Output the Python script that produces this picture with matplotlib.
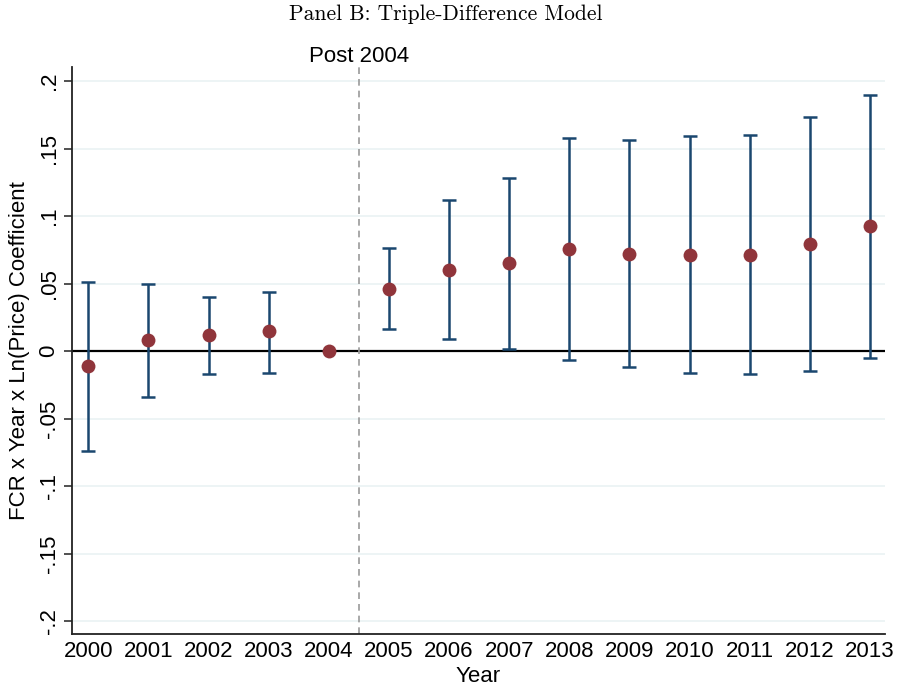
import matplotlib
matplotlib.use("Agg")
import matplotlib.pyplot as plt
import numpy as np

years = [2000, 2001, 2002, 2003, 2004, 2005, 2006, 2007, 2008, 2009, 2010, 2011, 2012, 2013]
coef = [-0.011, 0.008, 0.012, 0.015, 0.0, 0.046, 0.060, 0.065, 0.0755, 0.072, 0.071, 0.071, 0.079, 0.0925]
ci_hi = [0.051, 0.050, 0.040, 0.044, 0.0, 0.076, 0.112, 0.128, 0.158, 0.156, 0.159, 0.160, 0.173, 0.190]
ci_lo = [-0.074, -0.034, -0.017, -0.016, 0.0, 0.016, 0.009, 0.0015, -0.007, -0.012, -0.016, -0.017, -0.015, -0.005]
yticks = [-0.2, -0.15, -0.1, -0.05, 0, 0.05, 0.1, 0.15, 0.2]
ytick_labels = ["-.2", "-.15", "-.1", "-.05", "0", ".05", ".1", ".15", ".2"]

plt.rcParams['font.family'] = ['Liberation Sans', 'DejaVu Sans']

fig = plt.figure(figsize=(8.97, 6.87), dpi=100)
ax = fig.add_axes([72/897, 1-634/687, (885-72)/897, (634-67)/687])

ax.set_xlim(1999.73, 2013.25)
ax.set_ylim(-0.2096, 0.2104)

for t in yticks:
    ax.axhline(t, color='#eaf2f3', lw=1.2, zorder=0)
ax.axhline(0, color='black', lw=1.6, zorder=1)
ax.axvline(2004.5, color='#999999', lw=1.2, ls=(0, (4, 3)), zorder=1)

yr = np.array(years)
c = np.array(coef)
lo = np.array(ci_lo)
hi = np.array(ci_hi)
mask = (hi - lo) > 0
ax.errorbar(yr[mask], c[mask], yerr=[c[mask] - lo[mask], hi[mask] - c[mask]], fmt='none',
            ecolor='#1a476f', elinewidth=1.8, capsize=5, capthick=1.8, zorder=2)
ax.plot(yr, c, 'o', color='#90353b', markersize=10, markeredgewidth=0, zorder=3)

ax.set_yticks(yticks)
ax.set_yticklabels(ytick_labels, rotation=90, va='center', fontsize=16)
ax.set_xticks(years)
ax.set_xticklabels([str(y) for y in years], fontsize=16)
ax.tick_params(axis='both', length=6, width=1.2, color='#333333', pad=3)
ax.tick_params(axis='x', length=0, pad=5)

for s in ['top', 'right']:
    ax.spines[s].set_visible(False)
for s in ['left', 'bottom']:
    ax.spines[s].set_linewidth(1.3)
    ax.spines[s].set_color('#222222')

ax.set_xlabel("Year", fontsize=16, labelpad=3)
ax.set_ylabel("FCR x Year x Ln(Price) Coefficient", fontsize=16, labelpad=6)

ax.text(2004.5, 1.0, "Post 2004", transform=ax.get_xaxis_transform(), ha='center', va='bottom', fontsize=16)
fig.text(0.497, 1-14/687, "Panel B: Triple-Difference Model", ha='center', va='center', fontsize=15.5, family='cmr10')

fig.savefig("out.png", dpi=100, facecolor='white')
